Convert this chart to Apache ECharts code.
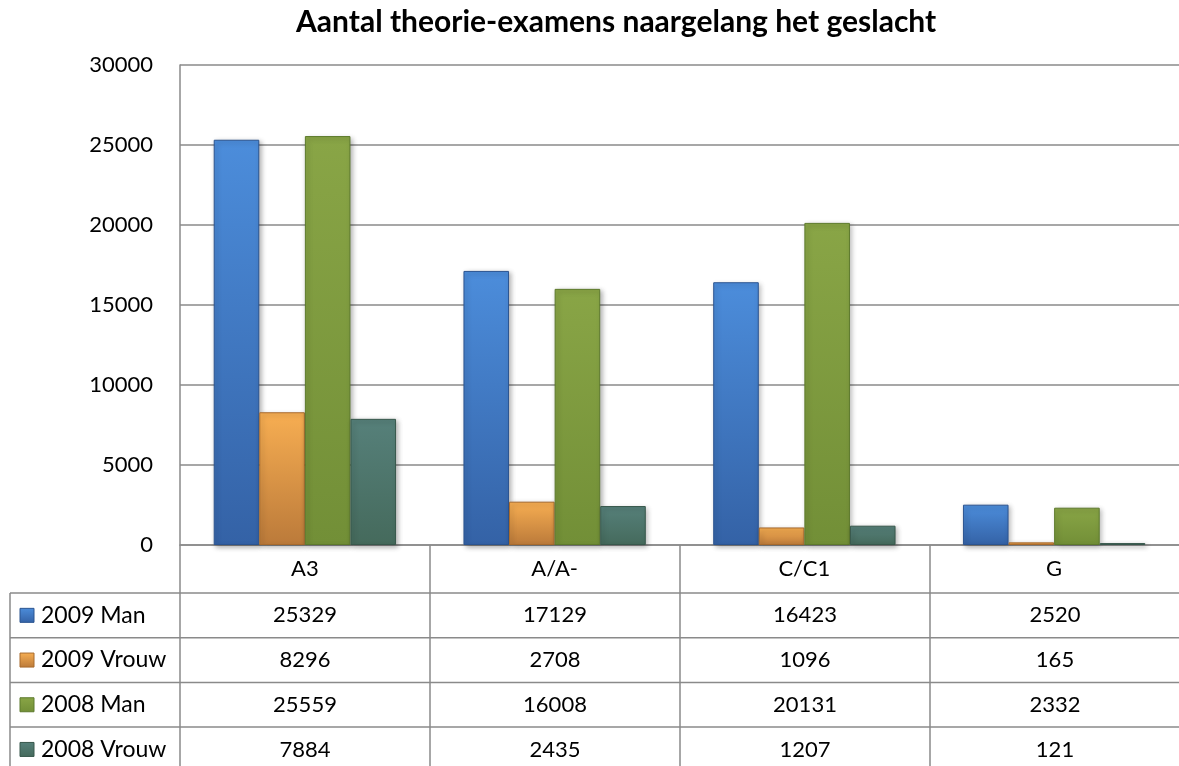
<!DOCTYPE html>
<html>
<head>
	<meta charset="utf-8">
	<title>Aantal theorie-examens naargelang het geslacht</title>
	<script src="https://cdn.jsdelivr.net/npm/echarts@6/dist/echarts.min.js"></script>
	<style>body { margin: 0; background: #fff; }</style>
</head>
<body>
	<div id="main" style="width: 1179px;height:766px;"></div>
	<script type="text/javascript">
		// data
		const categories = ['A3', 'A/A-', 'C/C1', 'G'];
		const seriesNames = ['2009 Man', '2009 Vrouw', '2008 Man', '2008 Vrouw'];
		const man2009 = [25329, 17129, 16423, 2520];
		const vrouw2009 = [8296, 2708, 1096, 165];
		const man2008 = [25559, 16008, 20131, 2332];
		const vrouw2008 = [7884, 2435, 1207, 121];
		const yMin = 0, yMax = 30000, yStep = 5000;

		const seriesData = [man2009, vrouw2009, man2008, vrouw2008];

		// layout
		const GRID_LEFT = 180, GRID_TOP = 65, GRID_W = 1000, GRID_H = 480;
		const AXIS_Y = GRID_TOP + GRID_H;
		const TABLE_LEFT = 10, ROW_TOP = 593, ROW_H = 44.7, PAGE_H = 766, PAGE_W = 1179;
		const lineColor = '#8a8a8a';
		const font = 'Lato, "Open Sans", sans-serif';

		const palette = [
			{ top: '#4c8ddb', bottom: '#3462a6', border: '#2b5490' },
			{ top: '#f7ae52', bottom: '#bb7a3a', border: '#a86a2c' },
			{ top: '#89a546', bottom: '#728f37', border: '#5d7a2c' },
			{ top: '#56807a', bottom: '#456a5c', border: '#38584c' }
		];

		function barFill(c) {
			return new echarts.graphic.LinearGradient(0, 0, 0, 1, [
				{ offset: 0, color: c.top },
				{ offset: 1, color: c.bottom }
			]);
		}

		const myChart = echarts.init(document.getElementById('main'));

		const series = seriesNames.map((name, i) => ({
			name: name,
			type: 'bar',
			data: seriesData[i],
			barGap: '0%',
			barCategoryGap: '27%',
			itemStyle: {
				color: barFill(palette[i]),
				borderColor: palette[i].border,
				borderWidth: 1,
				shadowBlur: 5,
				shadowOffsetX: 2,
				shadowOffsetY: 2,
				shadowColor: 'rgba(0,0,0,0.3)'
			},
			emphasis: { disabled: true }
		}));

		// data table under the plot
		const graphics = [];
		const band = GRID_W / categories.length;
		const hLine = (x1, x2, y) => ({
			type: 'line', silent: true,
			shape: { x1: x1, y1: y, x2: x2, y2: y },
			style: { stroke: lineColor, lineWidth: 1.5 }
		});
		const vLine = (x, y1, y2) => ({
			type: 'line', silent: true,
			shape: { x1: x, y1: y1, x2: x, y2: y2 },
			style: { stroke: lineColor, lineWidth: 1.5 }
		});
		for (let r = 0; r <= seriesNames.length; r++) {
			graphics.push(hLine(TABLE_LEFT, PAGE_W, ROW_TOP + r * ROW_H));
		}
		graphics.push(vLine(TABLE_LEFT, ROW_TOP, PAGE_H));
		for (let k = 0; k < categories.length; k++) {
			graphics.push(vLine(GRID_LEFT + k * band, AXIS_Y, PAGE_H));
		}
		seriesNames.forEach((name, r) => {
			const cy = ROW_TOP + r * ROW_H + ROW_H / 2;
			graphics.push({
				type: 'rect', silent: true,
				shape: { x: 20, y: cy - 7, width: 14, height: 14 },
				style: { fill: barFill(palette[r]), stroke: palette[r].border, lineWidth: 1 }
			});
			graphics.push({
				type: 'text', silent: true,
				style: { x: 41, y: cy, text: name, font: '23px ' + font, fill: '#000', textVerticalAlign: 'middle' }
			});
			seriesData[r].forEach((v, k) => {
				graphics.push({
					type: 'text', silent: true,
					style: {
						x: GRID_LEFT + k * band + band / 2, y: cy, text: String(v),
						font: '22px ' + font, fill: '#000', textAlign: 'center', textVerticalAlign: 'middle'
					}
				});
			});
		});

		const options = {
			animation: false,
			backgroundColor: '#fff',
			title: {
				text: 'Aantal theorie-examens naargelang het geslacht',
				left: 296,
				top: 7,
				padding: 0,
				textStyle: { fontFamily: font, fontWeight: 'bold', fontSize: 30, color: '#000' }
			},
			grid: { left: GRID_LEFT, top: GRID_TOP, width: GRID_W, height: GRID_H },
			xAxis: {
				type: 'category',
				data: categories,
				axisLine: { show: true, lineStyle: { color: lineColor, width: 1.5 } },
				axisTick: { show: false },
				axisLabel: { fontFamily: font, fontSize: 22, color: '#000', margin: 13 }
			},
			yAxis: {
				type: 'value',
				min: yMin,
				max: yMax,
				interval: yStep,
				axisLine: { show: true, lineStyle: { color: lineColor, width: 1.5 } },
				axisTick: { show: false },
				axisLabel: {
					fontFamily: font, fontSize: 22, color: '#000', margin: 27,
					formatter: value => String(value)
				},
				splitLine: { lineStyle: { color: lineColor, width: 1.5 } }
			},
			series: series,
			graphic: graphics
		};
		myChart.setOption(options);
	</script>
</body>
</html>
